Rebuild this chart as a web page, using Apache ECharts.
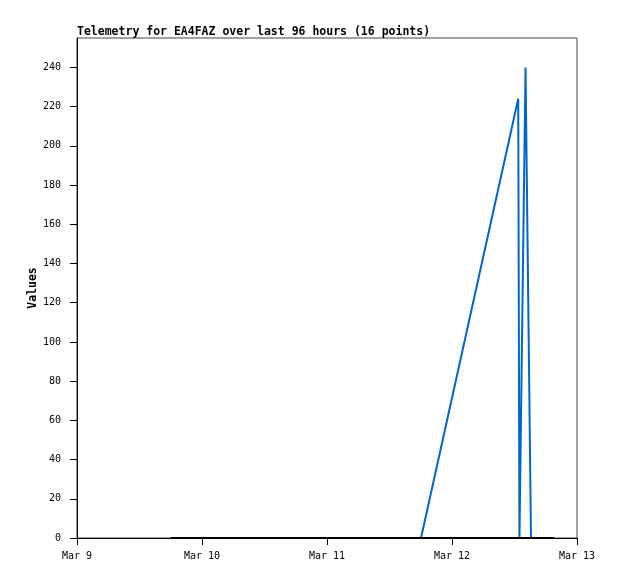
<!DOCTYPE html>
<html>
<head>
<meta charset="utf-8">
<script src="https://cdn.jsdelivr.net/npm/echarts@6/dist/echarts.min.js"></script>
<style>html,body{margin:0;padding:0;background:#fff}#c{width:618px;height:579px}</style>
</head>
<body>
<div id="c"></div>
<script>
// Data
const titleText = 'Telemetry for EA4FAZ over last 96 hours (16 points)';
const yAxisName = 'Values';
const monthNames = ['Jan','Feb','Mar','Apr','May','Jun','Jul','Aug','Sep','Oct','Nov','Dec'];
const xStart = '2024-03-09 00:00';
const xEnd = '2024-03-13 00:00';
const times = [
  '2024-03-09 18:03','2024-03-10 03:00','2024-03-10 12:00','2024-03-10 21:00',
  '2024-03-11 06:00','2024-03-11 12:00','2024-03-11 18:03','2024-03-12 12:43',
  '2024-03-12 12:57','2024-03-12 14:07','2024-03-12 15:10','2024-03-12 16:00',
  '2024-03-12 17:00','2024-03-12 18:00','2024-03-12 19:00','2024-03-12 19:35'
];
const blueValues = [0,0,0,0,0,0,0,224,0,240,0,null,null,null,null,null];
const blackValues = [0,0,0,0,0,0,0,0,0,0,0,0,0,0,0,0];

function toMs(s){
  const [d,t] = s.split(' ');
  const [Y,M,D] = d.split('-').map(Number);
  const [h,m] = t.split(':').map(Number);
  return Date.UTC(Y, M-1, D, h, m);
}
const blueData = times.map((t,i)=>[toMs(t), blueValues[i]]);
const blackData = times.map((t,i)=>[toMs(t), blackValues[i]]);

const mono = 'DejaVu Sans Mono';
const chart = echarts.init(document.getElementById('c'), null, {renderer:'canvas'});
chart.setOption({
  animation: false,
  useUTC: true,
  backgroundColor: '#fff',
  title: {
    text: titleText,
    left: 77, top: 26, padding: 0,
    textStyle: {fontFamily: mono, fontSize: 11.5, fontWeight: 'bold', color: '#000'}
  },
  grid: {left: 77, right: 41, top: 38, bottom: 41, show: true, borderColor: '#444', borderWidth: 1, backgroundColor: 'transparent'},
  xAxis: {
    type: 'time',
    min: toMs(xStart), max: toMs(xEnd),
    interval: 24*3600*1000,
    splitLine: {show: false},
    axisLine: {show: true, onZero: false, lineStyle: {color: '#000', width: 1}},
    axisTick: {show: true, length: 7, lineStyle: {color: '#000'}},
    axisLabel: {
      fontFamily: mono, fontSize: 10, color: '#000', margin: 13,
      showMinLabel: true, showMaxLabel: true, hideOverlap: false,
      formatter: function(v){ const d = new Date(v); return monthNames[d.getUTCMonth()] + ' ' + d.getUTCDate(); }
    }
  },
  yAxis: {
    type: 'value',
    min: 0, max: 255, interval: 20,
    name: yAxisName,
    nameLocation: 'middle',
    nameGap: 38,
    nameMoveOverlap: false,
    nameTextStyle: {fontFamily: mono, fontSize: 11.5, fontWeight: 'bold', color: '#000'},
    splitLine: {show: false},
    axisLine: {show: true, lineStyle: {color: '#000', width: 1}},
    axisTick: {show: true, length: 7, lineStyle: {color: '#000'}},
    axisLabel: {fontFamily: mono, fontSize: 10, color: '#000', margin: 16, showMaxLabel: false}
  },
  series: [
    {
      type: 'line', data: blueData, showSymbol: false, symbol: 'none',
      lineStyle: {color: '#0066cc', width: 2}, itemStyle: {color: '#0066cc'},
      connectNulls: false
    },
    {
      type: 'line', data: blackData, showSymbol: false, symbol: 'none',
      lineStyle: {color: '#000', width: 2}, itemStyle: {color: '#000'}
    }
  ]
});
</script>
</body>
</html>
